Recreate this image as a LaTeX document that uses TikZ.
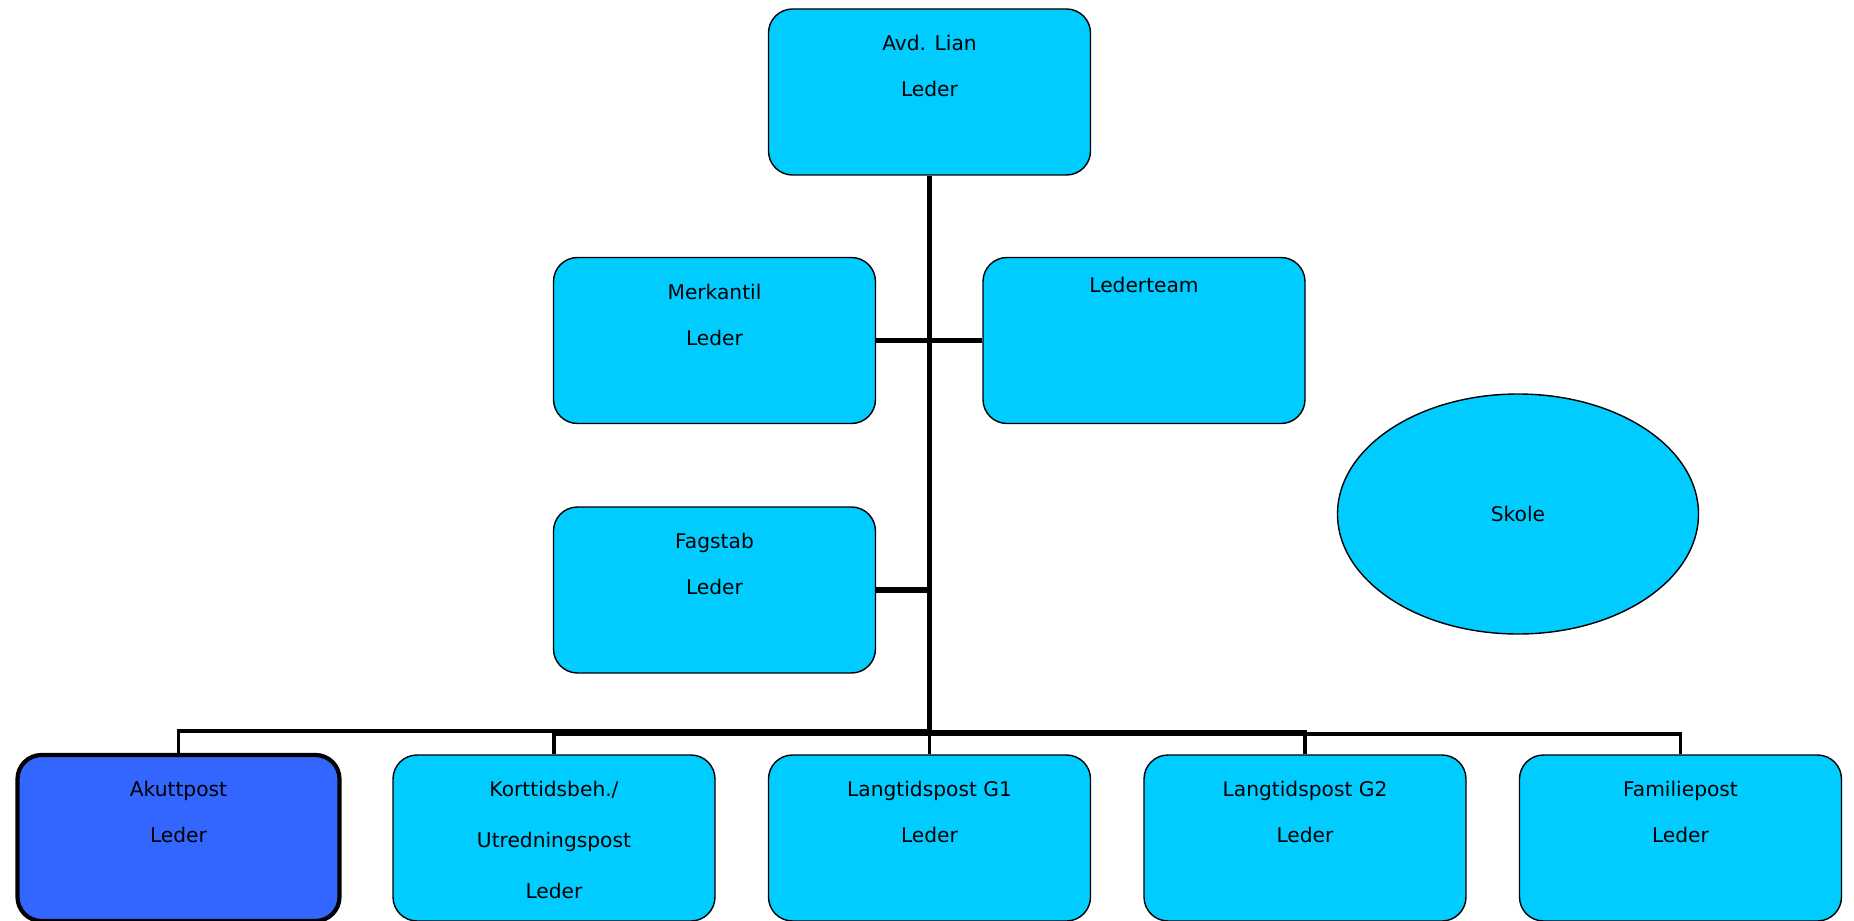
\documentclass[tikz,border=0pt]{standalone}
\usepackage{fontspec}
\setmainfont{DejaVu Sans}
\usetikzlibrary{positioning, shapes.geometric}
\definecolor{unitcyan}{HTML}{00CCFF}
\definecolor{unitblue}{HTML}{3366FF}
\newcommand{\unitlines}[2][0.52cm]{\parbox[c][3.3cm][t]{6.2cm}{\centering\fontsize{11.5}{26}\selectfont\vspace*{#1}#2}}

\begin{document}
\begin{tikzpicture}[on grid,
    every node/.style={font=\fontsize{11.5}{26}\selectfont},
    unit/.style={draw=black, line width=0.8pt, fill=unitcyan, rounded corners=0.48cm,
        minimum width=6.44cm, minimum height=3.32cm, inner sep=0pt},
    acute/.style={unit, fill=unitblue, line width=2.4pt},
    school/.style={ellipse, draw=black, line width=0.8pt, fill=unitcyan,
        minimum width=7.22cm, minimum height=4.8cm, inner sep=0pt},
    trunk/.style={line width=3.2pt},
    drop/.style={line width=2.2pt}]

    \useasboundingbox (0,0) rectangle (37.08,-18.42);

    \node[unit]   (lian) at (18.59,-1.84)                 {\unitlines{Avd. Lian\\Leder}};
    \node[unit]   (merk) [below left=4.97cm and 4.3cm of lian]  {\unitlines{Merkantil\\Leder}};
    \node[unit]   (team) [below right=4.97cm and 4.29cm of lian] {\unitlines[0.38cm]{Lederteam}};
    \node[unit]   (fag)  [below=4.99cm of merk]           {\unitlines{Fagstab\\Leder}};
    \node[school] (skole) [below right=3.47cm and 7.48cm of team] {Skole};

    \node[unit]   (langa) [below=14.92cm of lian]         {\unitlines{Langtidspost G1\\Leder}};
    \node[unit]   (kort)  [left=7.51cm of langa]          {\unitlines{Korttidsbeh./\\[0.1cm]Utredningspost\\[0.1cm]Leder}};
    \node[acute]  (akutt) [left=7.51cm of kort]           {\unitlines{Akuttpost\\Leder}};
    \node[unit]   (langb) [right=7.51cm of langa]         {\unitlines{Langtidspost G2\\Leder}};
    \node[unit]   (fam)   [right=7.51cm of langb]         {\unitlines{Familiepost\\Leder}};

    \coordinate (bus) at ([yshift=-11.14cm]lian.south);

    \draw[trunk] (lian.south) -- ([yshift=-0.04cm]bus);
    \draw[trunk] (merk.east) -- (team.west);
    \draw[trunk] (fag.east) -- (fag.east -| bus);
    \foreach \u/\dy in {akutt/0.03, kort/-0.03, langa/0, langb/0.01, fam/-0.02}
        \draw[drop] ([yshift=\dy cm]bus) -| (\u.north);
\end{tikzpicture}
\end{document}
